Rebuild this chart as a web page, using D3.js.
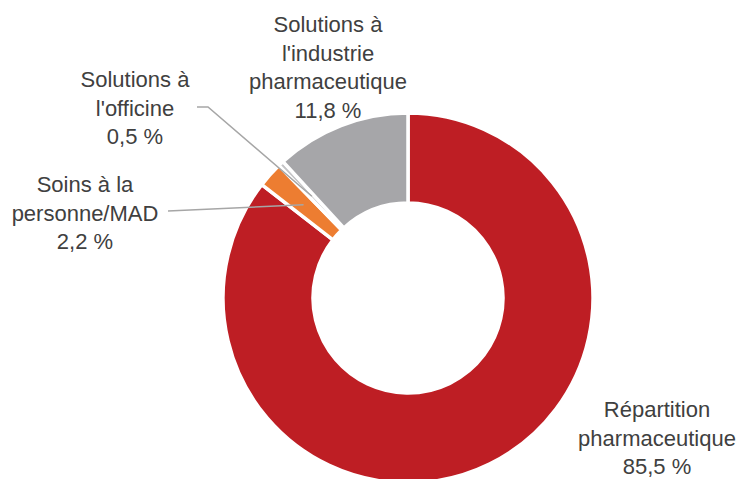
<!DOCTYPE html>
<html>
<head>
<meta charset="utf-8">
<script src="https://cdn.jsdelivr.net/npm/d3@7"></script>
<style>
  html, body { margin: 0; padding: 0; background: #fff; }
  svg { display: block; }
  .lbl { font-family: "Liberation Sans", Arial, sans-serif; font-size: 22px; fill: #404040; }
</style>
</head>
<body>
<div id="viz"></div>
<script>
// data
var categories = ["Répartition pharmaceutique", "Soins à la personne/MAD", "Solutions à l'officine", "Solutions à l'industrie pharmaceutique"];
var values = [85.5, 2.2, 0.5, 11.8];
var valueLabels = ["85,5 %", "2,2 %", "0,5 %", "11,8 %"];
var colors = ["#BE1E24", "#ED7D31", "#C4C4C6", "#A6A6A9"];

// label text lines for each slice
var labelLines = [
    ["Répartition", "pharmaceutique"],
    ["Soins à la", "personne/MAD"],
    ["Solutions à", "l'officine"],
    ["Solutions à", "l'industrie", "pharmaceutique"]
];

const width = 739, height = 479;
const cx = 408, cy = 298;
const outerR = 185, innerR = 95;

var svg = d3.select("#viz").append("svg")
    .attr("width", width)
    .attr("height", height);

var g = svg.append("g").attr("transform", "translate(" + cx + "," + cy + ")");

var pie = d3.pie().sort(null).value(function(d) { return d; });
var arcs = pie(values);

var arc = d3.arc().innerRadius(innerR).outerRadius(outerR);
var midArc = d3.arc().innerRadius((innerR + outerR) / 2).outerRadius((innerR + outerR) / 2);

g.selectAll("path.slice")
    .data(arcs)
    .enter()
    .append("path")
    .attr("class", "slice")
    .attr("d", arc)
    .attr("fill", function(d, i) { return colors[i]; })
    .attr("stroke", "#fff")
    .attr("stroke-width", 3.5)
    .attr("stroke-linejoin", "miter");

// label blocks (centre x, first baseline) in page coords
var labelPos = [
    { x: 657, y: 417 },
    { x: 85, y: 192 },
    { x: 135, y: 87 },
    { x: 328, y: 32 }
];
var lineH = 28.6;

labelLines.forEach(function(lines, i) {
    var t = svg.append("text")
        .attr("class", "lbl")
        .attr("text-anchor", "middle");
    lines.concat([valueLabels[i]]).forEach(function(s, j) {
        t.append("tspan")
            .attr("x", labelPos[i].x)
            .attr("y", labelPos[i].y + j * lineH)
            .text(s);
    });
});

// leader lines for the two small slices, ending at the middle of the ring
var leaders = [
    { i: 1, from: [[168, 211]] },
    { i: 2, from: [[197, 107], [208, 107]] }
];
leaders.forEach(function(l) {
    var c = midArc.centroid(arcs[l.i]);
    var pts = l.from.concat([[cx + c[0], cy + c[1]]]);
    svg.append("path")
        .attr("d", d3.line()(pts))
        .attr("fill", "none")
        .attr("stroke", "#A6A6A6")
        .attr("stroke-width", 1.5);
});
</script>
</body>
</html>
